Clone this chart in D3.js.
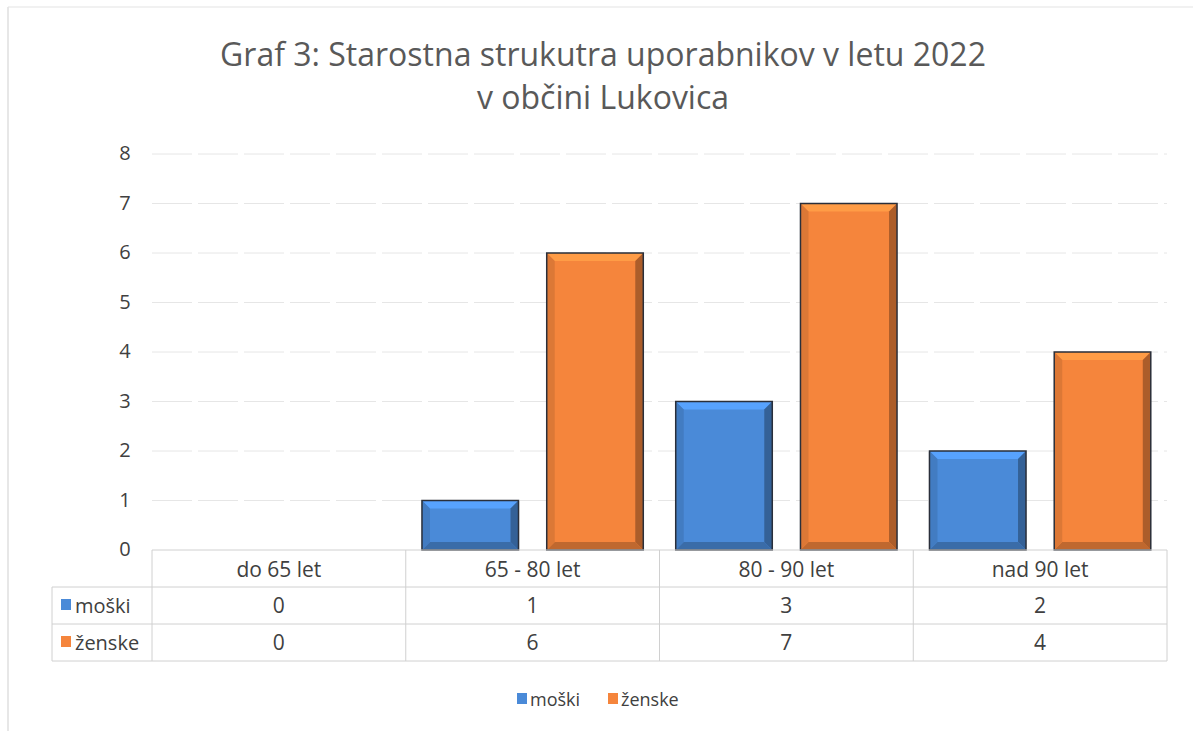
<!DOCTYPE html>
<html>
<head>
<meta charset="utf-8">
<title>Graf 3</title>
<script src="https://cdn.jsdelivr.net/npm/d3@7"></script>
<style>
  body { margin: 0; background: #fff; }
  text { font-family: "Open Sans", Lato, sans-serif; }
</style>
</head>
<body>
<svg id="chart" width="1193" height="731"></svg>
<script>
// podatki
var categories = ["do 65 let", "65 - 80 let", "80 - 90 let", "nad 90 let"];
var seriesNames = ["moški", "ženske"];
var moski = [0, 1, 3, 2];
var zenske = [0, 6, 7, 4];
var yTicks = [0, 1, 2, 3, 4, 5, 6, 7, 8];
var titleLines = ["Graf 3: Starostna strukutra uporabnikov v letu 2022", "v občini Lukovica"];

var colors = ["#4a8ad8", "#f5853c"];
var series = [moski, zenske];

var svg = d3.select("#chart");
var plotLeft = 152, plotRight = 1167, plotTop = 154, plotBottom = 550;

var x0 = d3.scaleBand().domain(categories).range([plotLeft, plotRight]);
var x1 = d3.scaleBand().domain(seriesNames).range([0, x0.bandwidth()]).paddingInner(0.226).paddingOuter(0.13);
var y = d3.scaleLinear().domain([0, 8]).range([plotBottom, plotTop]);

// okvir
svg.append("line").attr("x1", 8).attr("x2", 8).attr("y1", 7).attr("y2", 731).attr("stroke", "#cfcfcf");
svg.append("line").attr("x1", 8).attr("x2", 1193).attr("y1", 7).attr("y2", 7).attr("stroke", "#e3e3e3");

// naslov
svg.selectAll("text.title")
  .data(titleLines)
  .enter()
  .append("text")
  .attr("class", "title")
  .attr("x", 603)
  .attr("y", function (d, i) { return 66 + i * 43; })
  .attr("text-anchor", "middle")
  .attr("font-size", "32px")
  .attr("fill", "#595959")
  .text(function (d) { return d; });

// mreža
svg.append("g")
  .selectAll("line")
  .data(yTicks.filter(function (d) { return d > 0; }))
  .enter()
  .append("line")
  .attr("x1", plotLeft).attr("x2", plotRight)
  .attr("y1", function (d) { return y(d); })
  .attr("y2", function (d) { return y(d); })
  .attr("stroke", "#e6e6e6")
  .attr("stroke-dasharray", "40,6");

// y os
var yAxis = svg.append("g")
  .attr("transform", "translate(" + (plotLeft - 20) + ",0)")
  .call(d3.axisLeft(y).tickValues(yTicks).tickSize(0).tickFormat(d3.format("d")));
yAxis.select(".domain").remove();
yAxis.selectAll("text")
  .attr("font-family", "'Open Sans', sans-serif")
  .attr("font-size", "20px")
  .attr("fill", "#404040")
  .attr("text-anchor", "middle")
  .attr("x", -7)
  .attr("dy", "0.28em");

// stolpci z robom (bevel)
var bars = [];
categories.forEach(function (c, i) {
  seriesNames.forEach(function (s, j) {
    bars.push({ cat: c, name: s, value: series[j][i], color: colors[j] });
  });
});

var bg = svg.append("g");
bars.filter(function (d) { return d.value > 0; }).forEach(function (d) {
  var bx = x0(d.cat) + x1(d.name), bw = x1.bandwidth();
  var by = y(d.value), bh = y(0) - y(d.value);
  var g = bg.append("g");
  var e = 8;
  g.append("rect").attr("x", bx).attr("y", by).attr("width", bw).attr("height", bh)
    .attr("fill", d.color);
  // zgornji rob
  g.append("path")
    .attr("d", "M" + bx + "," + by + "L" + (bx + bw) + "," + by + "L" + (bx + bw - e) + "," + (by + e) + "L" + (bx + e) + "," + (by + e) + "Z")
    .attr("fill", d3.color(d.color).brighter(0.45));
  // desni rob
  g.append("path")
    .attr("d", "M" + (bx + bw) + "," + by + "L" + (bx + bw) + "," + (by + bh) + "L" + (bx + bw - e) + "," + (by + bh - e) + "L" + (bx + bw - e) + "," + (by + e) + "Z")
    .attr("fill", d3.color(d.color).darker(1.0));
  // spodnji rob
  g.append("path")
    .attr("d", "M" + bx + "," + (by + bh) + "L" + (bx + bw) + "," + (by + bh) + "L" + (bx + bw - e) + "," + (by + bh - e) + "L" + (bx + e) + "," + (by + bh - e) + "Z")
    .attr("fill", d3.color(d.color).darker(0.7));
  // levi rob
  g.append("path")
    .attr("d", "M" + bx + "," + by + "L" + (bx + e) + "," + (by + e) + "L" + (bx + e) + "," + (by + bh - e) + "L" + bx + "," + (by + bh) + "Z")
    .attr("fill", d3.color(d.color).darker(0.3));
  g.append("rect").attr("x", bx).attr("y", by).attr("width", bw).attr("height", bh)
    .attr("fill", "none").attr("stroke", "#2a2f3a").attr("stroke-width", 1.5);
});

// podatkovna tabela
var rowH = 37;
var tableLeft = 52;
var tg = svg.append("g");
var tableLine = "#d0d0d0";
// vodoravne črte
[0, 1, 2, 3].forEach(function (r) {
  tg.append("line")
    .attr("x1", r === 0 ? plotLeft : tableLeft).attr("x2", plotRight)
    .attr("y1", plotBottom + r * rowH).attr("y2", plotBottom + r * rowH)
    .attr("stroke", tableLine);
});
// navpične črte
categories.forEach(function (c) {
  tg.append("line").attr("x1", x0(c)).attr("x2", x0(c))
    .attr("y1", plotBottom).attr("y2", plotBottom + 3 * rowH).attr("stroke", tableLine);
});
tg.append("line").attr("x1", plotRight).attr("x2", plotRight)
  .attr("y1", plotBottom).attr("y2", plotBottom + 3 * rowH).attr("stroke", tableLine);
tg.append("line").attr("x1", tableLeft).attr("x2", tableLeft)
  .attr("y1", plotBottom + rowH).attr("y2", plotBottom + 3 * rowH).attr("stroke", tableLine);

tg.selectAll("text.cat")
  .data(categories)
  .enter()
  .append("text")
  .attr("x", function (d) { return x0(d) + x0.bandwidth() / 2; })
  .attr("y", plotBottom + 27)
  .attr("text-anchor", "middle")
  .attr("font-size", "21px")
  .attr("fill", "#404040")
  .text(function (d) { return d; });

seriesNames.forEach(function (s, j) {
  var ry = plotBottom + (j + 1) * rowH;
  tg.append("rect").attr("x", tableLeft + 9).attr("y", ry + 12).attr("width", 10).attr("height", 11)
    .attr("fill", colors[j]);
  tg.append("text").attr("x", tableLeft + 23).attr("y", ry + 26)
    .attr("font-size", "20px").attr("fill", "#404040").text(s);
  tg.selectAll("text.v" + j)
    .data(series[j])
    .enter()
    .append("text")
    .attr("x", function (d, i) { return x0(categories[i]) + x0.bandwidth() / 2; })
    .attr("y", ry + 26)
    .attr("text-anchor", "middle")
    .attr("font-size", "21px")
    .attr("fill", "#404040")
    .text(function (d) { return d; });
});

// legenda
var legX = [517, 608];
seriesNames.forEach(function (s, j) {
  svg.append("rect").attr("x", legX[j]).attr("y", 693).attr("width", 10).attr("height", 11)
    .attr("fill", colors[j]);
  svg.append("text").attr("x", legX[j] + 13).attr("y", 706)
    .attr("font-size", "18px").attr("fill", "#404040").text(s);
});
</script>
</body>
</html>
